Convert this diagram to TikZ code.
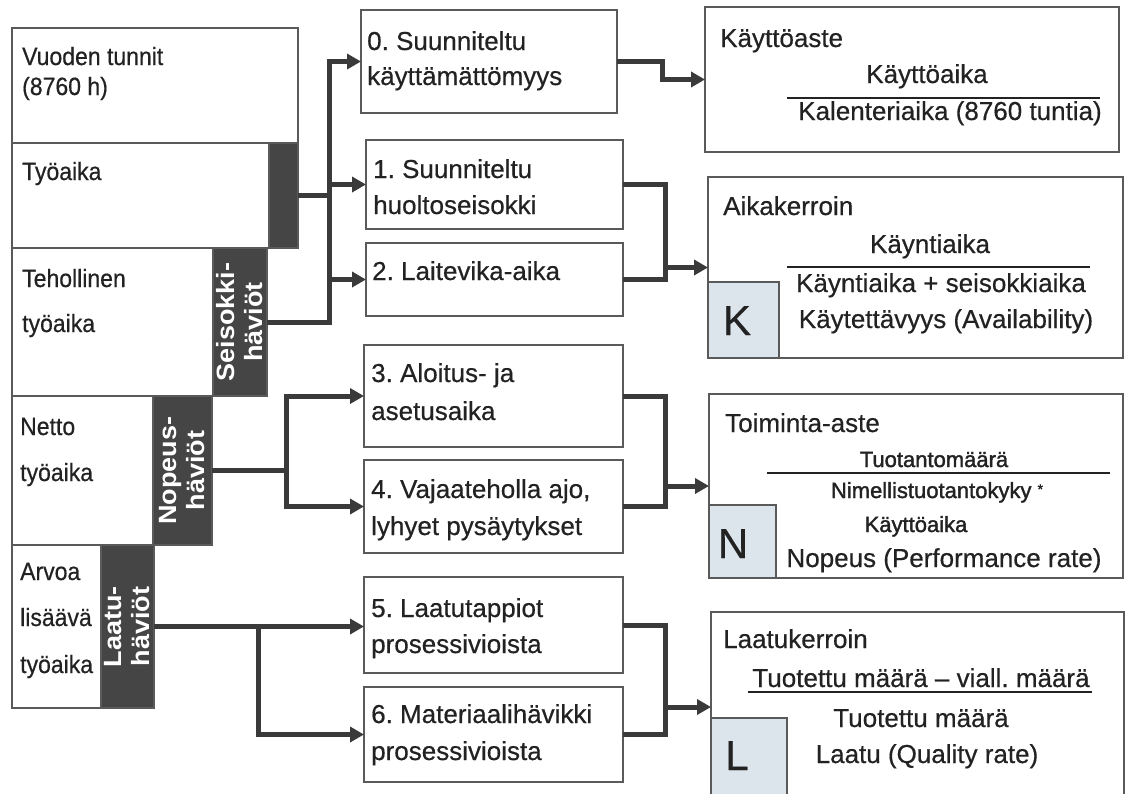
\documentclass[tikz,border=0pt]{standalone}
\usepackage{fontspec}
\setmainfont{Liberation Sans}[FakeBold=0.5]
\newfontfamily\condfont{Liberation Sans}[FakeStretch=0.92,FakeBold=0.5]
\newfontfamily\heavyfont{Liberation Sans}[FakeBold=1.6]
\newfontfamily\stripfont{Liberation Sans Bold}[FakeStretch=1.08]
\usetikzlibrary{arrows.meta}
\definecolor{ink}{HTML}{222222}
\definecolor{edge}{HTML}{5A5A5A}
\definecolor{stripc}{HTML}{454545}
\definecolor{connc}{HTML}{3A3A3A}
\definecolor{pale}{HTML}{DCE4EC}
\frenchspacing
\begin{document}
\frenchspacing
\begin{tikzpicture}[x=1pt,y=-1pt,
 box/.style={draw=edge,line width=1.5pt,fill=white,anchor=north west,inner sep=0pt,outer sep=0pt},
 darkstrip/.style={draw=edge,line width=1.5pt,fill=stripc,anchor=north west,inner sep=0pt,outer sep=0pt},
 palebox/.style={draw=edge,line width=1.5pt,fill=pale,anchor=north west,inner sep=0pt,outer sep=0pt},
 lt/.style={anchor=base west,inner sep=0pt,text=ink,font=\condfont\fontsize{25}{29}\selectfont},
 mt/.style={anchor=base west,inner sep=0pt,text=ink,font=\fontsize{26}{30}\selectfont},
 ct/.style={anchor=base,inner sep=0pt,text=ink,font=\fontsize{26}{30}\selectfont},
 st/.style={anchor=base,inner sep=0pt,text=ink,font=\heavyfont\fontsize{22}{26}\selectfont},
 big/.style={anchor=base,inner sep=0pt,text=ink,font=\fontsize{42}{46}\selectfont},
 vlabel/.style={rotate=90,align=center,text=white,font=\stripfont\fontsize{25}{28}\selectfont,inner sep=0pt},
 conn/.style={draw=connc,line width=5pt},
 arr/.style={draw=connc,line width=5pt,-{Triangle[length=14pt,width=15pt]}},
 fracline/.style={draw=ink,line width=1.5pt}]
\useasboundingbox (0,0) rectangle (1129,793);
\fill[white] (0,0) rectangle (1129,793);

% ---- left column ----
\node[box,minimum width=286pt,minimum height=115pt] (vt) at (12,28) {};
\node[box,minimum width=286pt,minimum height=105pt] (ty) at (12,143) {};
\node[darkstrip,minimum width=29pt,minimum height=105pt] (s1) at (269,143) {};
\node[box,minimum width=255pt,minimum height=148pt] (te) at (12,248) {};
\node[darkstrip,minimum width=54pt,minimum height=148pt] (s2) at (213,248) {};
\node[box,minimum width=200pt,minimum height=149pt] (ne) at (12,396) {};
\node[darkstrip,minimum width=59pt,minimum height=149pt] (s3) at (153,396) {};
\node[box,minimum width=142pt,minimum height=163pt] (ar) at (12,545) {};
\node[darkstrip,minimum width=53pt,minimum height=163pt] (s4) at (101,545) {};

\node[lt] (tvt1) at (22,65) {Vuoden tunnit};
\node[lt] (tvt2) at (22,95) {(8760 h)};
\node[lt] (tty) at (22,180) {Työaika};
\node[lt] (tte1) at (22,287) {Tehollinen};
\node[lt] (tte2) at (22,332) {työaika};
\node[lt] (tne1) at (20,435) {Netto};
\node[lt] (tne2) at (20,481) {työaika};
\node[lt] (tar1) at (20,580) {Arvoa};
\node[lt] (tar2) at (20,626) {lisäävä};
\node[lt] (tar3) at (20,673) {työaika};

\node[vlabel] (ls2) at (s2) {Seisokki-\\häviöt};
\node[vlabel] (ls3) at (s3) {Nopeus-\\häviöt};
\node[vlabel] (ls4) at (s4) {Laatu-\\häviöt};

% ---- middle column ----
\node[box,minimum width=256pt,minimum height=103pt] (b0) at (361,10) {};
\node[box,minimum width=257pt,minimum height=89pt] (b1) at (366,140) {};
\node[box,minimum width=257pt,minimum height=73pt] (b2) at (366,243) {};
\node[box,minimum width=259pt,minimum height=102pt] (b3) at (364,345) {};
\node[box,minimum width=259pt,minimum height=93pt] (b4) at (364,460) {};
\node[box,minimum width=259pt,minimum height=96pt] (b5) at (364,577) {};
\node[box,minimum width=259pt,minimum height=95pt] (b6) at (364,687) {};

\node[mt] (tb0a) at (367,50) {0. Suunniteltu};
\node[mt] (tb0b) at (367,85) {käyttämättömyys};
\node[mt] (tb1a) at (373,178) {1. Suunniteltu};
\node[mt] (tb1b) at (373,214) {huoltoseisokki};
\node[mt] (tb2) at (372,280) {2. Laitevika-aika};
\node[mt] (tb3a) at (371,382) {3. Aloitus- ja};
\node[mt] (tb3b) at (371,420) {asetusaika};
\node[mt] (tb4a) at (371,498) {4. Vajaateholla ajo,};
\node[mt] (tb4b) at (371,535) {lyhyet pysäytykset};
\node[mt] (tb5a) at (371,617) {5. Laatutappiot};
\node[mt] (tb5b) at (371,653) {prosessivioista};
\node[mt] (tb6a) at (371,723) {6. Materiaalihävikki};
\node[mt] (tb6b) at (371,760) {prosessivioista};

% ---- right column ----
\node[box,minimum width=414pt,minimum height=145pt] (r0) at (705,7) {};
\node[box,minimum width=415pt,minimum height=181pt] (r1) at (708,177) {};
\node[box,minimum width=414pt,minimum height=184pt] (r2) at (709,394) {};
\node[box,minimum width=413pt,minimum height=190pt] (r3) at (711,612) {};
\node[palebox,minimum width=71pt,minimum height=76pt] (kq) at (708,282) {};
\node[palebox,minimum width=67pt,minimum height=73pt] (nq) at (709,505) {};
\node[palebox,minimum width=76pt,minimum height=85pt] (lq) at (711,718) {};

\node[mt] (tr0) at (720,47) {Käyttöaste};
\node[ct] (tr0n) at (927,83) {Käyttöaika};
\draw[fracline] (787,98) -- (1100,98);
\node[ct] (tr0d) at (950,120) {Kalenteriaika (8760 tuntia)};

\node[mt] (tr1) at (723,215) {Aikakerroin};
\node[ct] (tr1n) at (930,253) {Käyntiaika};
\draw[fracline] (787,267) -- (1090,267);
\node[ct] (tr1d) at (941,292) {Käyntiaika + seisokkiaika};
\node[ct] (tr1e) at (946,328) {Käytettävyys (Availability)};
\node[big] (tk) at (737,335) {K};

\node[mt] (tr2) at (725,432) {Toiminta-aste};
\node[st] (tr2n) at (934,467) {Tuotantomäärä};
\draw[fracline] (767,473) -- (1110,473);
\node[st] (tr2d) at (937,498) {Nimellistuotantokyky \raisebox{4pt}{\fontsize{14}{16}\selectfont *}};
\node[st] (tr2e) at (916,532) {Käyttöaika};
\node[ct] (tr2f) at (944,567) {Nopeus (Performance rate)};
\node[big] (tn) at (733,558) {N};

\node[mt] (tr3) at (723,648) {Laatukerroin};
\node[ct] (tr3n) at (921,687) {Tuotettu määrä – viall. määrä};
\draw[fracline] (748,692) -- (1092,692);
\node[ct] (tr3d) at (921,727) {Tuotettu määrä};
\node[ct] (tr3e) at (927,763) {Laatu (Quality rate)};
\node[big] (tl) at (737,770) {L};

% ---- connectors ----
\coordinate (jx) at (329,0);
\coordinate (nx) at (286,0);
\coordinate (qx) at (258,0);
\coordinate (k0) at (662,0);
\coordinate (kx) at (665,0);

\draw[arr] (s2.east) -| (jx |- b0.west) -- (b0.west);
\draw[conn] (s1.east) -- (s1.east -| jx);
\draw[arr] (jx |- b1.west) -- (b1.west);
\draw[arr] (jx |- b2.west) -- (b2.west);

\draw[conn] (s3.east) -- (s3.east -| nx);
\draw[arr] (nx |- b3.west) |- (b4.west);
\draw[arr] (nx |- b4.west) |- (b3.west);

\draw[arr] (s4.east) -- (b5.west |- s4.east);
\draw[arr] (s4.east -| qx) |- (b6.west);

\draw[arr] (b0.east) -| (k0 |- r0.west) -- (r0.west);

\draw[conn] (b1.east) -| (kx |- b2.east) -- (b2.east);
\draw[arr] (kx |- r1.west) -- (r1.west);

\draw[conn] (b3.east) -| (kx |- b4.east) -- (b4.east);
\draw[arr] (kx |- r2.west) -- (r2.west);

\draw[conn] (b5.east) -| (kx |- b6.east) -- (b6.east);
\draw[arr] (kx |- r3.west) -- (r3.west);
\end{tikzpicture}
\end{document}
